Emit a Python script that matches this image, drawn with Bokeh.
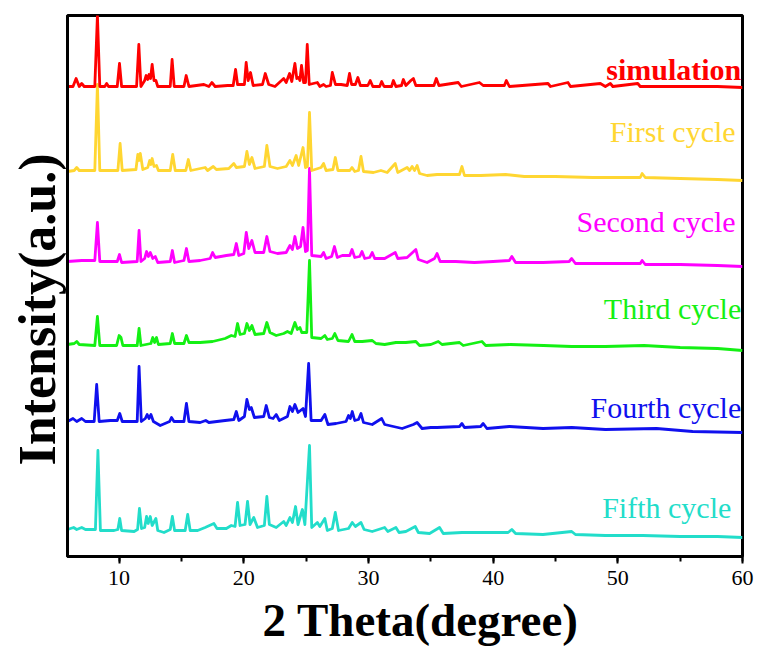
from bokeh.plotting import figure
from bokeh.models import Range1d, Label, SingleIntervalTicker, FixedTicker, Title
from bokeh.embed import file_html
from bokeh.resources import INLINE

# ---- data (2 Theta in degree, intensity in a.u. relative to each pattern's start) ----
sim_x = [5.86, 6.3, 6.55, 6.8, 7.0, 7.2, 8.05, 8.26, 8.45, 8.85, 9.0, 9.15, 9.85, 10.03, 10.2, 11.4, 11.58, 11.75,
         12.05, 12.17, 12.3, 12.4, 12.52, 12.65, 12.8, 12.95, 13.1, 14.1, 14.25, 14.42, 15.2, 15.38, 15.6, 16.8, 17.2,
         17.44, 17.7, 18.7, 19.15, 19.34, 19.5, 20.05, 20.19, 20.35, 20.54, 20.75, 21.5, 21.72, 22.0, 22.5, 23.2, 23.4,
         23.67, 23.85, 24.1, 24.25, 24.4, 24.5, 24.63, 24.8, 24.95, 25.09, 25.25, 25.9, 26.1, 26.4, 26.6, 26.95, 27.1,
         27.35, 27.8, 28.3, 28.48, 28.65, 28.95, 29.15, 29.35, 29.95, 30.14, 30.35, 30.9, 31.06, 31.25, 31.85, 32.0,
         32.2, 32.65, 32.8, 33.0, 33.4, 33.6, 33.8, 35.25, 35.44, 35.65, 37.2, 37.45, 38.9, 39.2, 40.9, 41.06, 41.3,
         44.4, 44.6, 46.0, 46.2, 48.6, 49.0, 49.4, 49.6, 51.6, 51.8, 55.0, 58.0, 60.0]
sim_y = [0, 0, 8, 0, 3, 0, 0, 71, 0, 0, 3, 0, 0, 23, 0, 0, 42, 0,
         6, 11, 7, 12, 8, 22, 6, 6, 0, 0, 27, 0, 0, 11, 0, 2, 0,
         4, 0, 1, 1, 17, 2, 2, 24, 6, 14, 1, 2, 13, 2, 0, 8, 4,
         13, 5, 23, 8, 9, 6, 21, 4, 4, 42, 2, 4, 0, 2, 0, 1, 14,
         2, 2, 1, 13, 2, 2, 9, 1, 1, 6, 0, 0, 5, 0, 0, 6,
         0, 1, 7, 1, 6, 8, 1, 1, 8, 1, 4, 0, 4, 1, 1, 6, 0,
         3, 0, 4, 0, 3, 0, 3, 0, 3, 0, 0, 0, -1]

c1_x = [5.86, 6.4, 6.6, 6.8, 8.05, 8.26, 8.45, 9.9, 10.08, 10.25, 11.35, 11.5, 11.6, 11.7, 11.9, 12.3, 12.45, 12.55,
        12.65, 12.8, 13.0, 13.15, 14.1, 14.3, 14.5, 15.35, 15.55, 15.75, 16.9, 17.1, 17.55, 17.8, 18.8, 19.2, 19.4,
        20.05, 20.25, 20.45, 20.65, 20.9, 21.65, 21.85, 22.1, 22.7, 23.4, 23.7, 23.9, 24.2, 24.4, 24.75, 24.95, 25.1,
        25.27, 25.45, 26.2, 26.4, 26.6, 27.15, 27.34, 27.55, 28.5, 28.68, 28.9, 29.2, 29.4, 29.6, 30.4, 31.0, 31.5,
        32.15, 32.35, 33.1, 33.3, 33.5, 33.7, 33.9, 34.1, 34.7, 35.5, 36.5, 37.3, 37.5, 37.7, 39.0, 41.0, 42.5, 45.0,
        48.0, 51.8, 51.95, 52.2, 55.0, 58.0, 60.0]
c1_y = [-1, 0, 3, 0, 0, 86, 0, 0, 27, 0, 1, 16, 10, 17, 1, 3, 10, 6,
        12, 4, 5, 0, 0, 16, 0, 0, 11, 0, 3, 0, 4, 1, 2, 7, 3,
        4, 19, 6, 13, 2, 4, 25, 4, 2, 4, 10, 5, 15, 5, 23, 3, 4,
        58, 0, 3, 7, 0, 1, 13, 0, 0, 3, -1, 0, 14, -1, -2, 0, -2,
        7, -2, 3, 0, 4, 0, 5, -3, -5, -4, -4, -4, 4, -5, -5, -4, -6, -6,
        -7, -7, -3, -7, -8, -9, -10]

c2_x = [5.86, 7.0, 8.05, 8.26, 8.45, 9.85, 10.03, 10.2, 11.45, 11.6, 11.75, 12.05, 12.2, 12.35, 12.5, 12.7, 12.9, 13.1,
        14.1, 14.27, 14.45, 15.2, 15.4, 15.6, 16.5, 17.3, 17.5, 17.7, 18.6, 19.2, 19.4, 19.6, 20.0, 20.2, 20.4, 20.65,
        20.9, 21.6, 21.85, 22.1, 22.7, 23.4, 23.7, 23.9, 24.1, 24.3, 24.55, 24.75, 24.95, 25.1, 25.27, 25.45, 26.2,
        26.4, 26.6, 27.05, 27.27, 27.5, 27.9, 28.5, 28.68, 28.9, 29.3, 29.48, 29.7, 30.1, 30.3, 30.5, 31.3, 32.15,
        32.35, 33.1, 33.8, 34.0, 34.7, 35.3, 35.5, 35.75, 37.0, 38.5, 40.0, 41.3, 41.5, 41.8, 44.0, 46.1, 46.3, 46.6,
        49.0, 51.8, 51.95, 52.2, 55.0, 58.0, 60.0]
c2_y = [-1, 0, 0, 38, -1, -1, 6, -2, -1, 30, -1, 2, 9, 4, 8, 2, 4, -2,
        -1, 10, -2, 0, 12, -1, 0, 2, 8, 3, 5, 6, 17, 5, 7, 28, 12, 20,
        8, 8, 24, 9, 7, 8, 15, 11, 24, 12, 14, 33, 9, 10, 92, 5, 4,
        8, 2, 4, 14, 3, 5, 5, 11, 3, 4, 9, 2, 3, 8, 2, 2, 8,
        2, 3, 11, 1, -2, 2, 7, -1, -1, -2, -1, 0, 4, -2, -2, -1, 2, -3,
        -3, -3, 0, -4, -4, -5, -6]

c3_x = [5.86, 6.4, 6.6, 6.8, 8.05, 8.26, 8.45, 9.8, 10.0, 10.15, 10.3, 11.45, 11.6, 11.75, 12.55, 12.7, 12.85, 13.0,
        13.15, 14.1, 14.27, 14.45, 15.2, 15.4, 15.6, 16.5, 17.5, 18.5, 19.0, 19.3, 19.5, 19.7, 20.05, 20.25, 20.45,
        20.65, 20.9, 21.6, 21.85, 22.1, 22.6, 23.2, 23.5, 23.8, 24.1, 24.3, 24.5, 24.65, 25.05, 25.27, 25.45, 26.2,
        26.5, 26.7, 27.1, 27.3, 27.55, 28.4, 28.68, 28.9, 29.5, 30.3, 30.6, 31.3, 32.2, 33.0, 33.8, 34.1, 35.0, 35.6,
        35.9, 37.3, 37.6, 39.1, 39.4, 41.4, 44.05, 46.3, 49.0, 52.1, 55.0, 58.0, 60.0]
c3_y = [0, 1, 3, 0, -1, 28, -1, -1, 9, 7, -1, -1, 16, -1, 1, 7, 2, 7,
        0, 1, 11, 1, 1, 9, 2, 2, 3, 6, 9, 8, 21, 10, 11, 21, 14,
        19, 10, 11, 22, 12, 9, 11, 13, 11, 22, 15, 17, 12, 12, 84, 7, 6,
        9, 5, 6, 11, 4, 3, 10, 3, 3, 4, 1, 0, 2, 2, 3, -1, 0, 3,
        0, 2, -1, 3, -1, 0, -1, -2, -2, -1, -3, -4, -6]

c4_x = [5.86, 6.3, 6.6, 7.0, 7.3, 8.0, 8.2, 8.4, 9.3, 9.85, 10.05, 10.25, 11.45, 11.6, 11.78, 12.1, 12.25, 12.4, 12.55,
        12.75, 13.3, 14.05, 14.2, 14.4, 15.2, 15.4, 15.6, 16.5, 16.95, 17.2, 18.5, 19.2, 19.4, 19.6, 20.05, 20.25,
        20.45, 20.6, 20.85, 21.6, 21.8, 22.05, 22.35, 22.6, 22.85, 23.5, 23.7, 23.9, 24.1, 24.35, 24.75, 24.95, 25.2,
        25.4, 26.2, 26.5, 26.75, 27.4, 28.2, 28.4, 28.55, 28.7, 28.9, 29.2, 29.4, 29.6, 30.3, 31.06, 31.3, 32.0, 32.7,
        33.6, 33.9, 34.3, 35.0, 35.5, 37.3, 37.5, 37.7, 39.0, 39.2, 39.5, 41.3, 44.0, 46.3, 49.0, 53.1, 56.0, 60.0]
c4_y = [0, 3, 0, 3, 0, 0, 37, 0, 1, 1, 8, 0, 0, 55, 0, 3, 7, 3, 7,
        0, -4, 0, 4, 0, 0, 18, 0, -1, 1, -1, 1, 2, 10, 1, 5, 22,
        12, 14, 4, 5, 16, 4, 3, 7, 1, 5, 15, 10, 17, 9, 13, 5, 58,
        1, 1, 7, -3, -2, 0, 6, 3, 10, 1, 2, 8, -1, -3, 3, -3, -5, -7,
        -3, -1, -7, -6, -6, -5, -2, -6, -5, -2, -7, -5, -7, -6, -8, -7, -10, -11]

c5_x = [5.86, 6.35, 6.6, 7.0, 7.3, 8.1, 8.3, 8.5, 9.6, 9.9, 10.05, 10.2, 11.2, 11.48, 11.63, 11.8, 12.05, 12.2, 12.33,
        12.5, 12.65, 12.95, 13.1, 13.6, 14.1, 14.27, 14.45, 15.3, 15.5, 15.7, 16.3, 16.9, 17.6, 17.85, 18.6, 19.0,
        19.3, 19.5, 19.7, 20.1, 20.3, 20.5, 20.8, 21.1, 21.65, 21.85, 22.05, 22.6, 23.2, 23.4, 23.7, 23.9, 24.15,
        24.35, 24.7, 24.9, 25.27, 25.45, 25.9, 26.1, 26.5, 26.7, 27.1, 27.34, 27.6, 28.4, 28.7, 28.95, 29.4, 29.65,
        30.3, 31.3, 31.55, 32.2, 32.45, 33.0, 33.75, 34.0, 34.9, 35.7, 36.0, 37.5, 39.0, 41.2, 41.5, 41.8, 44.0, 46.3,
        46.6, 49.0, 52.0, 55.0, 58.0, 60.0]
c5_y = [0, 2, 0, 2, 0, 0, 79, -1, -1, 0, 11, -1, -2, 0, 21, 1, 2, 13, 6,
        13, 4, 11, -1, -3, 0, 13, -1, -1, 15, -1, -1, 2, 6, 1, 1, 4,
        3, 27, 4, 5, 28, 5, 12, 2, 4, 33, 5, 2, 8, 4, 12, 7, 23,
        5, 20, 5, 84, 2, 7, 3, 11, -1, 1, 17, -1, 1, 7, 3, 7, 0,
        -2, 2, -2, 2, -3, -2, 3, -3, -4, 2, -4, -3, -3, -3, 0, -4, -5, -2,
        -5, -6, -6, -7, -7, -8]

names = ["simulation", "First cycle", "Second cycle", "Third cycle", "Fourth cycle", "Fifth cycle"]
offsets = [470, 386, 296, 212, 135, 27]
xs = [sim_x, c1_x, c2_x, c3_x, c4_x, c5_x]
ys = [sim_y, c1_y, c2_y, c3_y, c4_y, c5_y]
colors = ["#FF0000", "#FFD632", "#FF00FF", "#14F014", "#1010EE", "#22DDCA"]
x_ticks = [10, 20, 30, 40, 50, 60]

p = figure(width=757, height=649, output_backend="svg", toolbar_location=None,
           x_range=Range1d(5.86, 60.0), y_range=Range1d(0, 541),
           min_border_left=67, min_border_right=15, min_border_top=15, min_border_bottom=93)
p.background_fill_color = "white"
p.border_fill_color = "white"
p.xgrid.visible = False
p.ygrid.visible = False
p.outline_line_color = "black"
p.outline_line_width = 3

for i in reversed(range(6)):
    yy = [v + offsets[i] for v in ys[i]]
    p.line(xs[i], yy, line_color=colors[i], line_width=2.8, line_join="round")

label_pos = [(59.9, 487), (59.45, 425), (59.45, 335), (59.9, 248), (59.9, 149), (59.1, 49)]
for i, name in enumerate(names):
    lx, ly = label_pos[i]
    p.add_layout(Label(x=lx, y=ly, text=name, text_align="right", text_baseline="alphabetic",
                       text_color=colors[i], text_font="Liberation Serif", text_font_size="30px",
                       text_font_style="bold" if i == 0 else "normal"))

xt = SingleIntervalTicker(interval=10, num_minor_ticks=2)
p.xaxis.ticker = xt
p.xaxis.major_label_overrides = {t: str(t) for t in x_ticks}
p.xaxis.axis_line_width = 3
p.xaxis.major_tick_line_width = 2
p.xaxis.minor_tick_line_width = 2
p.xaxis.major_tick_in = 0
p.xaxis.major_tick_out = 7
p.xaxis.minor_tick_in = 0
p.xaxis.minor_tick_out = 5
p.xaxis.major_label_standoff = 7
p.xaxis.major_label_text_font = "Liberation Serif"
p.xaxis.major_label_text_font_size = "22px"
p.xaxis.major_label_text_color = "black"

p.yaxis.ticker = FixedTicker(ticks=[])
p.yaxis.axis_line_width = 3
p.yaxis.major_tick_out = 0
p.yaxis.major_tick_in = 0
p.yaxis.major_label_standoff = 0

# axis titles as side titles, so that they can be offset like in the reference
tx = Title(text="2 Theta(degree)", align="left", offset=195, standoff=8,
           text_font="Liberation Serif", text_font_size="47px", text_font_style="bold", text_color="black")
p.add_layout(tx, "below")
ty = Title(text="Intensity(a.u.)", align="left", offset=91, standoff=4,
           text_font="Liberation Serif", text_font_size="52px", text_font_style="bold", text_color="black")
p.add_layout(ty, "left")

open("out.html", "w").write(file_html(p, INLINE))
